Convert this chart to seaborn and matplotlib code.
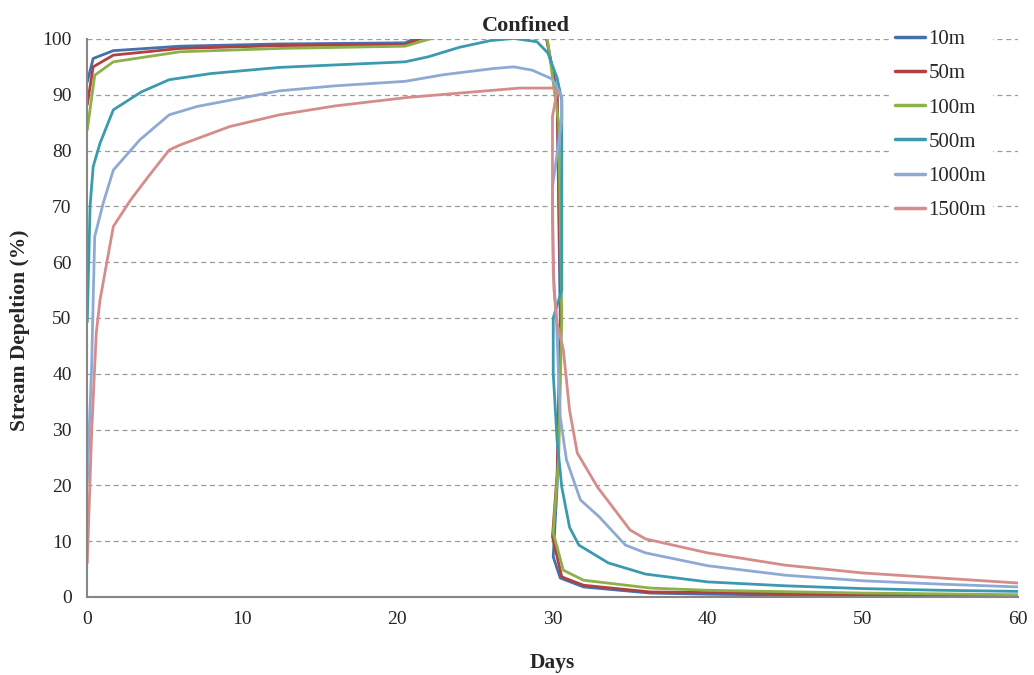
import pandas as pd
import seaborn as sns
import matplotlib.pyplot as plt

# Stream depletion (%) vs days, confined aquifer, by well distance
series_names = ['10m', '50m', '100m', '500m', '1000m', '1500m']
colors = ['#4470AC', '#B0413E', '#8DB04A', '#3C9AB0', '#8EAAD4', '#D58C8A']

days_10m = [0.02, 0.4, 1.7, 6, 12.4, 20.5, 22, 26, 29.5, 30.3, 30.5, 30.3, 30.05,
            30.5, 32, 36.3, 40, 50, 60]
vals_10m = [92.3, 96.5, 97.9, 98.7, 99.1, 99.3, 101.2, 103, 102, 90, 50, 20, 7.2,
            3.4, 1.8, 0.7, 0.5, 0.2, 0.1]

days_50m = [0.02, 0.4, 1.7, 6, 12.4, 20.5, 22, 26, 29.5, 30.3, 30.55, 30.3, 30.0,
            30.6, 32, 36.3, 40, 50, 60]
vals_50m = [88.2, 95.0, 97.1, 98.3, 98.8, 99.0, 100.6, 102.5, 101.8, 90, 50, 22, 10.8,
            3.6, 2.1, 0.9, 0.8, 0.4, 0.2]

days_100m = [0.02, 0.5, 1.7, 6, 12.4, 20.5, 22.1, 26, 29.6, 30.4, 30.6, 30.4, 30.05,
             30.7, 32, 36.3, 40, 50, 60]
vals_100m = [83.7, 93.5, 95.9, 97.7, 98.3, 98.7, 100.0, 102.5, 101.5, 85, 50, 25, 11.5,
             4.8, 3.0, 1.6, 1.2, 0.7, 0.4]

days_500m = [0.02, 0.2, 0.4, 0.84, 1.7, 3.5, 5.3, 8, 12.4, 20.5, 22, 24, 26, 27.5,
             29, 29.7, 30.3, 30.6, 30.6, 30.05, 30.05, 30.3, 30.6, 31.1, 31.7, 33.6,
             36, 40, 45, 50, 55, 60]
vals_500m = [49.3, 70, 77.1, 81.3, 87.3, 90.5, 92.7, 93.8, 94.9, 95.9, 96.8, 98.5, 99.7, 100.1,
             99.5, 97.5, 93, 89, 55, 50, 40, 28, 19.7, 12.5, 9.3, 6.1,
             4.1, 2.7, 2.0, 1.5, 1.2, 1.0]

days_1000m = [0.02, 0.3, 0.4, 0.5, 1.05, 1.7, 3.4, 5.3, 7.1, 12.4, 16, 20.5, 23, 26.2,
              27.5, 28.7, 30.0, 30.6, 30.6, 30.3, 30.0, 30.05, 30.25, 30.5, 30.9, 31.5,
              31.8, 33, 34.7, 36, 40, 45, 50, 55, 60]
vals_1000m = [20.4, 41.3, 53.2, 64.6, 70.6, 76.5, 81.9, 86.4, 87.9, 90.7, 91.6, 92.4, 93.6, 94.7,
              95.0, 94.4, 92.8, 89.7, 85.5, 79.5, 73.5, 58, 50, 32.3, 24.6, 19.8,
              17.4, 14.4, 9.3, 7.9, 5.6, 3.9, 2.9, 2.3, 1.8]

days_1500m = [0.02, 0.3, 0.6, 0.84, 1.27, 1.7, 2.8, 4, 5.3, 6.0, 9.2, 12.4, 16, 20.6,
              24, 27.9, 30.0, 30.3, 30.0, 30.0, 30.1, 30.3, 30.7, 31.1, 31.6, 32.9,
              35.0, 36, 40, 45, 50, 55, 60]
vals_1500m = [6.1, 29.4, 47.3, 53.2, 59.8, 66.4, 71.1, 75.5, 80.1, 81.0, 84.3, 86.4, 88.0, 89.5,
              90.3, 91.2, 91.2, 90.6, 86.1, 67.6, 55, 49, 44.3, 33.5, 25.8, 19.7,
              12.0, 10.4, 7.9, 5.7, 4.3, 3.4, 2.5]

all_days = [days_10m, days_50m, days_100m, days_500m, days_1000m, days_1500m]
all_vals = [vals_10m, vals_50m, vals_100m, vals_500m, vals_1000m, vals_1500m]

frames = []
for name, d, v in zip(series_names, all_days, all_vals):
    frames.append(pd.DataFrame({'Days': d, 'Depletion': v, 'Series': name}))
df = pd.concat(frames, ignore_index=True)

sns.set_style('white')
plt.rcParams['font.family'] = ['Liberation Serif', 'DejaVu Serif']

fig = plt.figure(figsize=(10.34, 6.75), dpi=100)
ax = fig.add_axes([0.0841, 0.1156, 0.9004, 0.8267])

sns.lineplot(data=df, x='Days', y='Depletion', hue='Series', hue_order=series_names,
             palette=colors, sort=False, estimator=None, linewidth=2.0, ax=ax)

ax.set_xlim(0, 60)
ax.set_ylim(0, 100)
ax.set_xticks(range(0, 61, 10))
ax.set_yticks(range(0, 101, 10))
ax.tick_params(axis='both', labelsize=14, direction='out', length=4, width=1,
               color='#868686')
ax.tick_params(axis='y', pad=7)
ax.tick_params(axis='x', pad=6)
ax.yaxis.grid(True, linestyle=(0, (4, 3)), color='#9A9A9A', linewidth=0.9)
ax.xaxis.grid(False)
for side in ['top', 'right']:
    ax.spines[side].set_visible(False)
for side in ['left', 'bottom']:
    ax.spines[side].set_color('#868686')
    ax.spines[side].set_linewidth(1.5)

ax.set_xlabel('Days', fontsize=15.5, fontweight='bold', labelpad=18)
ax.set_ylabel('Stream Depeltion (%)', fontsize=15.5, fontweight='bold', labelpad=9)
ax.yaxis.label.set_y(0.478)
ax.set_title('Confined', fontsize=16, fontweight='bold', pad=6, x=0.4715)

handles, labels = ax.get_legend_handles_labels()
ax.legend_.remove()
fig.legend(handles, labels, loc='upper left', bbox_to_anchor=(0.8497, 0.9807),
           frameon=True, facecolor='white', edgecolor='none', framealpha=1,
           fontsize=15, handlelength=1.45, handletextpad=0.15, labelspacing=0.7,
           borderpad=0.3)
for line in fig.legends[0].get_lines():
    line.set_linewidth(2.5)

fig.savefig('out.png', dpi=100)
plt.close(fig)
